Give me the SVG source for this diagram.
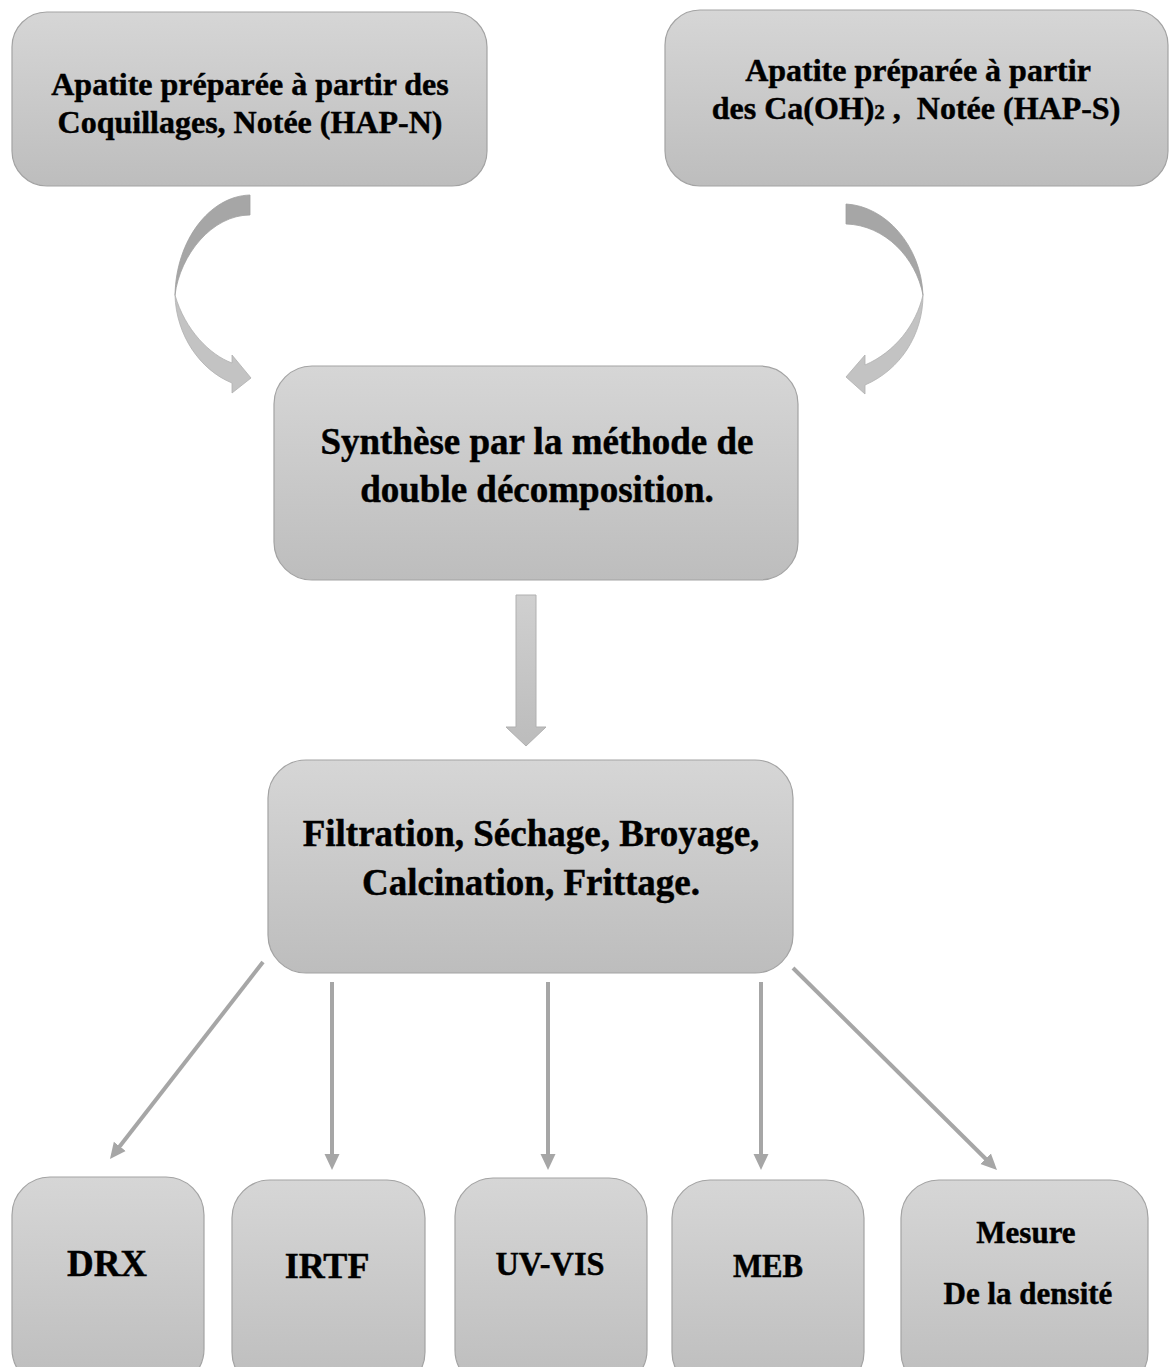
<svg xmlns="http://www.w3.org/2000/svg" width="1170" height="1367" viewBox="0 0 1170 1367">
<defs>
<linearGradient id="boxg" x1="0" y1="0" x2="0" y2="1">
<stop offset="0" stop-color="#d6d6d6"/>
<stop offset="1" stop-color="#bdbdbd"/>
</linearGradient>
<linearGradient id="arrg" x1="0" y1="0" x2="0" y2="1">
<stop offset="0" stop-color="#d0d0d0"/>
<stop offset="1" stop-color="#bcbcbc"/>
</linearGradient>
<marker id="ah" markerUnits="userSpaceOnUse" viewBox="0 0 16 16" markerWidth="16" markerHeight="16" refX="6" refY="8" orient="auto">
<path d="M0,0.5 L16,8 L0,15.5 Z" fill="#a6a6a6"/>
</marker>
</defs>
<style>
.box{fill:url(#boxg);stroke:#a3a3a3;stroke-width:1.2}
.t{font-family:"Liberation Serif","Times New Roman",serif;font-weight:bold;fill:#000;stroke:#000;stroke-width:0.45;text-anchor:middle}
.t32{font-size:32px}
.t37{font-size:37px}
.ln{stroke:#a6a6a6;stroke-width:4;fill:none;marker-end:url(#ah)}
.cdark{fill:#a6a6a6;stroke:#a0a0a0;stroke-width:0.8}
.clight{fill:#c3c3c3;stroke:#b0b0b0;stroke-width:0.8}
</style>
<rect width="1170" height="1367" fill="#ffffff"/>

<g id="connectors">
<path class="cdark" d="M250,195 C210,196 176,240 175,295 C180,255 212,215 250,215 Z"/>
<path class="clight" d="M175,295 C176,335 200,370 232,383 L232,393 L251,378 L232,355 L232,363 C210,355 185,330 175,295 Z"/>
<path class="cdark" d="M846,204 C885,206 921,245 923,295 C916,258 885,225 846,224 Z"/>
<path class="clight" d="M923,295 C923,335 900,370 865,385 L865,394 L846,377 L865,355 L865,365 C895,352 916,325 923,295 Z"/>
<path d="M516,595 L536,595 L536,727 L546,727 L526,746 L506,727 L516,727 Z" fill="url(#arrg)" stroke="#b0b0b0" stroke-width="1"/>
<line class="ln" x1="263" y1="962" x2="116.1" y2="1151.1"/>
<line class="ln" x1="332" y1="982" x2="332" y2="1160"/>
<line class="ln" x1="548" y1="982" x2="548" y2="1160"/>
<line class="ln" x1="761" y1="982" x2="761" y2="1160"/>
<line class="ln" x1="793" y1="968" x2="989.9" y2="1163"/>
</g>

<g id="node-hapn">
<rect class="box" x="12" y="12" width="475" height="174" rx="35"/>
<text class="t t32" x="250" y="95">Apatite préparée à partir des</text>
<text class="t t32" x="250" y="133">Coquillages, Notée (HAP-N)</text>
</g>

<g id="node-haps">
<rect class="box" x="665" y="10" width="503" height="176" rx="35"/>
<text class="t t32" x="918" y="81">Apatite préparée à partir</text>
<text class="t t32" x="916" y="119" style="white-space:pre">des Ca(OH)<tspan font-size="21">2</tspan> ,  Notée (HAP-S)</text>
</g>

<g id="node-synthese">
<rect class="box" x="274" y="366" width="524" height="214" rx="38"/>
<text class="t t37" x="537" y="454">Synthèse par la méthode de</text>
<text class="t t37" x="537" y="502">double décomposition.</text>
</g>

<g id="node-filtration">
<rect class="box" x="268" y="760" width="525" height="213" rx="38"/>
<text class="t t37" x="531" y="846">Filtration, Séchage, Broyage,</text>
<text class="t t37" x="531" y="895">Calcination, Frittage.</text>
</g>

<g id="node-drx">
<rect class="box" x="12" y="1177" width="192" height="210" rx="38"/>
<text class="t" x="107" y="1276" font-size="37">DRX</text>
</g>

<g id="node-irtf">
<rect class="box" x="232" y="1180" width="193" height="210" rx="38"/>
<text class="t" x="327" y="1278" font-size="36">IRTF</text>
</g>

<g id="node-uvvis">
<rect class="box" x="455" y="1178" width="192" height="210" rx="38"/>
<text class="t" x="550" y="1275" font-size="34" textLength="109" lengthAdjust="spacingAndGlyphs">UV-VIS</text>
</g>

<g id="node-meb">
<rect class="box" x="672" y="1180" width="192" height="210" rx="38"/>
<text class="t" x="768" y="1277" font-size="33" textLength="70" lengthAdjust="spacingAndGlyphs">MEB</text>
</g>

<g id="node-densite">
<rect class="box" x="901" y="1180" width="247" height="210" rx="38"/>
<text class="t" x="1026" y="1243" font-size="31">Mesure</text>
<text class="t" x="1028" y="1304" font-size="31">De la densité</text>
</g>
</svg>
